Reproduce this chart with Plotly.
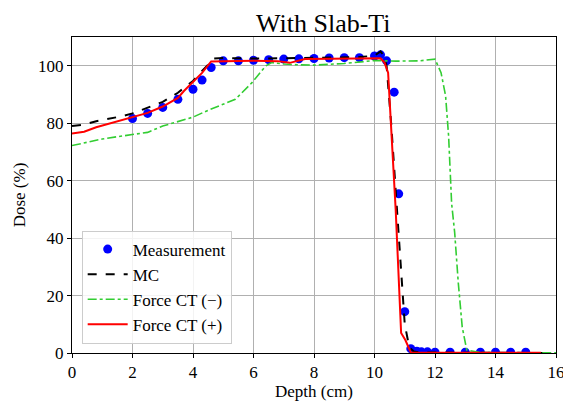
import plotly.graph_objects as go

# Measurement
meas_x = [2.0, 2.5, 3.0, 3.5, 4.0, 4.3, 4.6, 5.0, 5.5, 6.0, 6.5, 7.0, 7.5, 8.0, 8.5, 9.0, 9.5,
          10.0, 10.2, 10.4, 10.65, 10.8, 11.0, 11.2, 11.4, 11.55, 11.75, 12.0, 12.5, 13.0, 13.5,
          14.0, 14.5, 15.0]
meas_y = [81.6, 83.4, 85.5, 88.3, 91.8, 95.0, 99.4, 101.7, 101.7, 101.9, 102.1, 102.3, 102.4,
          102.5, 102.7, 102.8, 102.8, 103.4, 103.8, 101.7, 90.8, 55.4, 14.4, 1.5, 0.6, 0.4,
          0.4, 0.3, 0.3, 0.3, 0.3, 0.3, 0.3, 0.3]

# MC
mc_x = [0, 0.4, 0.8, 1.2, 1.6, 2.0, 2.5, 3.0, 3.5, 4.0, 4.3, 4.7, 5.0, 6.0, 7.0, 8.0, 9.0,
        9.5, 10.0, 10.2, 10.3, 10.4, 10.55, 10.75, 10.9, 11.0, 11.15, 11.3, 11.5, 12.0, 13.0,
        14.0, 15.0, 15.6]
mc_y = [79.0, 79.5, 80.7, 81.5, 82.3, 83.4, 85.4, 87.4, 90.6, 94.7, 98.2, 102.5, 102.7,
        102.5, 102.6, 102.8, 102.9, 103.0, 103.5, 105.0, 103.5, 100.0, 80.0, 50.0, 25.0,
        10.0, 2.0, 0.5, 0.2, 0.1, 0.1, 0.1, 0.1, 0.0]

# Force CT (-)
fm_x = [0, 0.5, 1.0, 1.5, 2.0, 2.5, 3.0, 3.5, 4.0, 4.5, 5.0, 5.4, 5.95, 6.4, 6.6, 7.0, 7.5,
        8.0, 9.0, 10.0, 10.7, 11.0, 11.5, 12.0, 12.2, 12.35, 12.45, 12.55, 12.65, 12.77,
        12.9, 13.05, 13.5, 14.0, 15.0, 16.0]
fm_y = [72.2, 73.3, 74.5, 75.3, 76.0, 76.8, 79.0, 80.5, 82.1, 84.5, 86.5, 88.3, 94.1, 99.9,
        101.1, 100.6, 100.3, 100.2, 100.8, 101.8, 101.6, 101.6, 101.7, 102.3, 97.6, 89.5,
        75.5, 52.0, 42.0, 24.4, 9.0, 1.0, 0.2, 0.1, 0.1, 0.1]

# Force CT (+)
fp_x = [0, 0.4, 0.8, 1.2, 2.0, 2.5, 3.0, 3.5, 3.7, 4.0, 4.3, 4.6, 5.0, 6.0, 6.8, 7.2, 7.7,
        8.5, 9.5, 10.2, 10.33, 10.45, 10.7, 10.88, 11.02, 11.2, 12.0, 13.0, 14.0, 15.0, 15.5]
fp_y = [76.4, 77.0, 78.6, 79.8, 82.0, 83.6, 85.8, 88.8, 91.2, 94.4, 97.5, 101.5, 101.6,
        101.7, 101.6, 101.0, 102.3, 102.4, 102.5, 102.6, 101.1, 97.6, 50.0, 7.0, 4.5, 0.2,
        0.1, 0.1, 0.1, 0.1, 0.1]

x_ticks = [0, 2, 4, 6, 8, 10, 12, 14, 16]
y_ticks = [0, 20, 40, 60, 80, 100]

FONT = "Liberation Serif"

fig = go.Figure()
fig.add_trace(go.Scatter(x=meas_x, y=meas_y, mode="markers", name="Measurement",
                         marker=dict(color="#0000ff", size=9)))
fig.add_trace(go.Scatter(x=mc_x, y=mc_y, mode="lines", name="MC",
                         line=dict(color="black", width=2, dash="dash")))
fig.add_trace(go.Scatter(x=fm_x, y=fm_y, mode="lines", name="Force CT (−)",
                         line=dict(color="#32cd32", width=1.6, dash="dashdot")))
fig.add_trace(go.Scatter(x=fp_x, y=fp_y, mode="lines", name="Force CT (+)",
                         line=dict(color="#ff0000", width=2)))

axis_common = dict(showgrid=True, gridcolor="#b0b0b0", gridwidth=1, showline=True,
                   linecolor="black", linewidth=1, mirror=True, ticks="outside",
                   ticklen=4, tickcolor="black", zeroline=False, automargin=False,
                   tickfont=dict(family=FONT, size=17, color="black"))

# The page body adds an 8px offset; size the figure so the plot area lands where it should.
fig.update_layout(
    width=563, height=395,
    margin=dict(l=64, r=15, t=29, b=50),
    paper_bgcolor="white", plot_bgcolor="white",
    font=dict(family=FONT, size=17, color="black"),
    title=dict(text="With Slab-Ti", x=0.56, xanchor="center", y=0.962, yanchor="middle",
               font=dict(family=FONT, size=26, color="black")),
    xaxis=dict(range=[0, 16], tickvals=x_ticks,
               title=dict(text="Depth (cm)", font=dict(family=FONT, size=17), standoff=2),
               **axis_common),
    yaxis=dict(range=[0, 110], tickvals=y_ticks,
               title=dict(text="Dose (%)", font=dict(family=FONT, size=17), standoff=8),
               **axis_common),
    legend=dict(x=0.02, y=0.03, xanchor="left", yanchor="bottom",
                bgcolor="rgba(255,255,255,0.85)", bordercolor="#cccccc", borderwidth=1,
                font=dict(family=FONT, size=17), tracegroupgap=0, itemwidth=40),
    showlegend=True,
)

fig.write_html("out.html")
